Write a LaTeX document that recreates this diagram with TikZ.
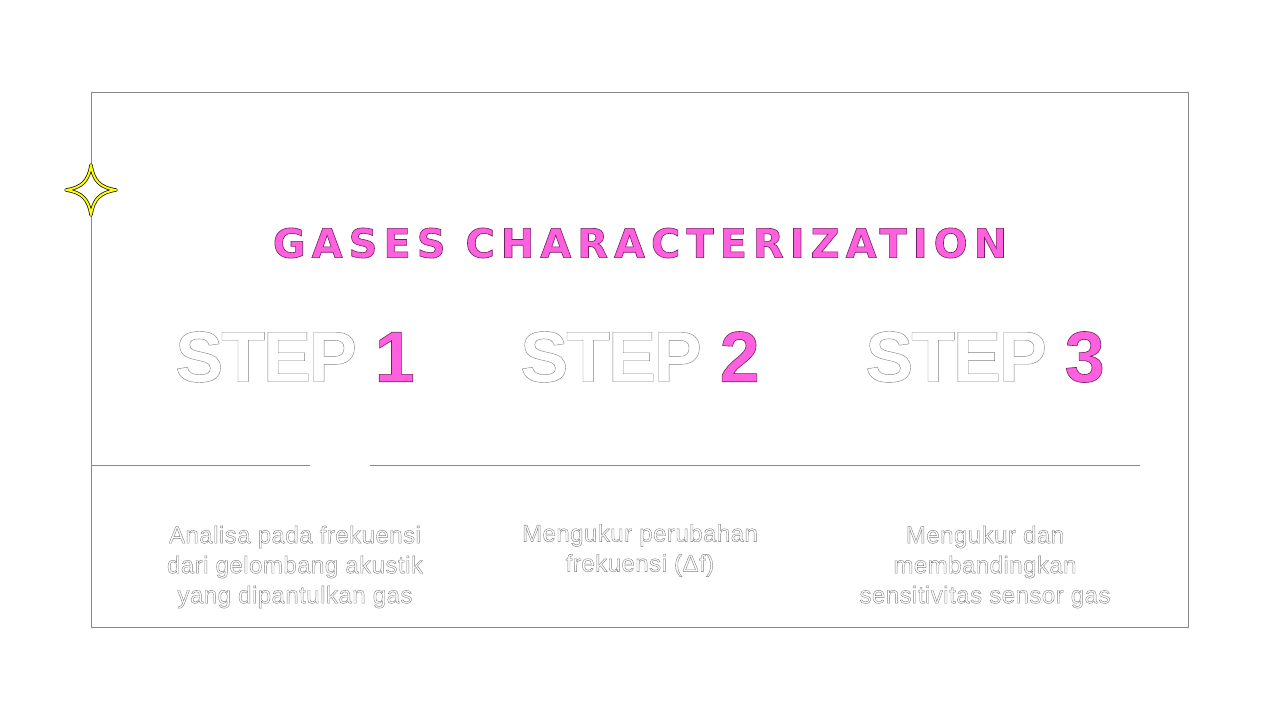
\documentclass[tikz,border=0pt]{standalone}
\usepackage{fontspec}
\setmainfont{Liberation Sans}
\newfontfamily\pixfont{DejaVu Sans}[LetterSpace=15]
\newfontfamily\stepfont{Liberation Sans}[LetterSpace=-3]
\newfontfamily\descfont{Liberation Sans}[LetterSpace=2]
\usetikzlibrary{calc}
\definecolor{stepPink}{RGB}{255, 96, 222}
\definecolor{frameGray}{RGB}{136, 136, 136}
\definecolor{sparkYellow}{RGB}{255, 255, 0}
\newcommand{\hollow}[1]{{\color{white}\special{pdf:literal direct 2 Tr 0.4 w 0.5 G}#1\special{pdf:literal direct 0 Tr}}}
\newcommand{\pinkfill}[1]{{\color{stepPink}\special{pdf:literal direct 2 Tr 0.6 w 0.45 0.12 0.4 RG}#1\special{pdf:literal direct 0 Tr}}}

\begin{document}
\begin{tikzpicture}[x=1pt, y=-1pt,
  frame/.style={draw=frameGray, line width=1},
  steplabel/.style={font=\stepfont\bfseries\fontsize{72}{72}\selectfont, inner sep=0},
  desc/.style={font=\descfont\fontsize{24}{30}\selectfont, align=center, inner sep=0}]
  \useasboundingbox (0, 0) rectangle (1280, 720);

  \draw[frame] (91, 92) rectangle (1188, 627);
  \coordinate (divL) at (91, 465);
  \coordinate (divA) at (310, 465);
  \coordinate (divB) at (370, 465);
  \coordinate (divR) at (1140, 465);
  \draw[frame] (divL) -- (divA);
  \draw[frame] (divB) -- (divR);

  \coordinate (spark) at (91, 190);
  \path[fill=white, draw=black, line width=3.4, line join=round]
    (91, 165) .. controls (93.5, 181) and (100, 187.5) .. (116, 190)
    .. controls (100, 192.5) and (93.5, 199) .. (91, 215)
    .. controls (88.5, 199) and (82, 192.5) .. (66, 190)
    .. controls (82, 187.5) and (88.5, 181) .. cycle;
  \draw[sparkYellow, line width=2, line join=round]
    (91, 165) .. controls (93.5, 181) and (100, 187.5) .. (116, 190)
    .. controls (100, 192.5) and (93.5, 199) .. (91, 215)
    .. controls (88.5, 199) and (82, 192.5) .. (66, 190)
    .. controls (82, 187.5) and (88.5, 181) .. cycle;

  \node[font=\pixfont\bfseries\fontsize{40}{40}\selectfont, inner sep=0] (title) at (640, 243)
    {\pinkfill{GASES CHARACTERIZATION}};

  \node[steplabel] (step1) at (295, 357) {\hollow{STEP} \pinkfill{1}};
  \node[steplabel] (step2) at (640, 357) {\hollow{STEP} \pinkfill{2}};
  \node[steplabel] (step3) at (985, 357) {\hollow{STEP} \pinkfill{3}};

  \node[desc] (desc1) at (295, 567) {\hollow{Analisa pada frekuensi}\\\hollow{dari gelombang akustik}\\\hollow{yang dipantulkan gas}};
  \node[desc, anchor=north] (desc2) at (640, 524) {\hollow{Mengukur perubahan}\\\hollow{frekuensi (Δf)}};
  \node[desc] (desc3) at (985, 567) {\hollow{Mengukur dan}\\\hollow{membandingkan}\\\hollow{sensitivitas sensor gas}};
\end{tikzpicture}
\end{document}
